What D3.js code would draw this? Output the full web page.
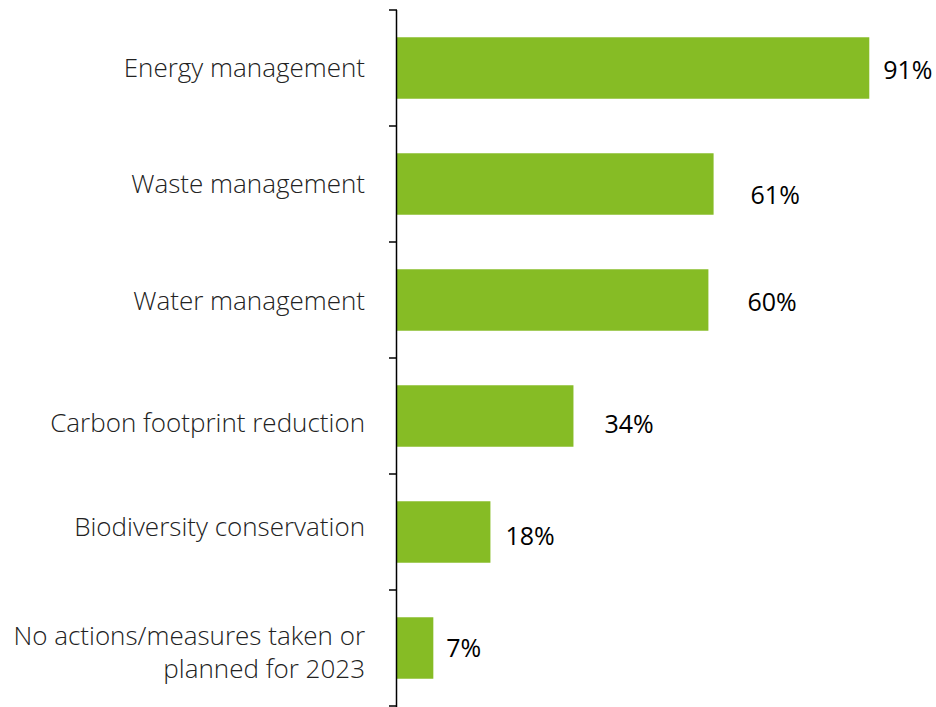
<!DOCTYPE html>
<html>
<head>
<meta charset="utf-8">
<script src="https://cdn.jsdelivr.net/npm/d3@7"></script>
<style>
  body { margin: 0; background: #fff; }
  svg { display: block; }
</style>
</head>
<body>
<svg id="chart" width="936" height="707"></svg>
<script>
const categories = [
    "Energy management",
    "Waste management",
    "Water management",
    "Carbon footprint reduction",
    "Biodiversity conservation",
    "No actions/measures taken or|planned for 2023"
];
const values = [91, 61, 60, 34, 18, 7];

// hand-placed label nudges, like the original
const labelDx = [14, 37, 39, 31, 15, 13];
const labelDy = [2, 11, 2, 8, 4, 0];
const catDy = [0, 0, 1, 7, -5, 4];

const svg = d3.select('#chart');
const axisX = 397;

const x = d3.scaleLinear().domain([0, 100]).range([axisX, axisX + 519]);
const y = d3.scaleBand().domain(categories).range([10, 706]).paddingInner(0.47).paddingOuter(0.235);
const band = d3.scaleBand().domain(categories).range([10, 706]);

svg.append('g')
    .selectAll('rect')
    .data(categories)
    .enter().append('rect')
    .attr('x', x(0))
    .attr('y', d => y(d))
    .attr('width', (d, i) => x(values[i]) - x(0))
    .attr('height', y.bandwidth())
    .attr('fill', '#86bc25');

// axis line + ticks at band boundaries
svg.append('line')
    .attr('x1', axisX - 0.5).attr('x2', axisX - 0.5)
    .attr('y1', 10).attr('y2', 707)
    .attr('stroke', '#000').attr('stroke-width', 1.5);

const tickYs = categories.map(c => band(c)).concat([706]);
svg.append('g')
    .selectAll('line')
    .data(tickYs)
    .enter().append('line')
    .attr('x1', axisX - 8).attr('x2', axisX)
    .attr('y1', d => d).attr('y2', d => d)
    .attr('stroke', '#000').attr('stroke-width', 1.5);

// category labels, one text per line so wrapped ones keep apart
categories.forEach((d, i) => {
    const lines = d.split('|');
    const cy = band(d) + band.bandwidth() / 2 + catDy[i];
    lines.forEach((ln, k) => {
        svg.append('text')
            .attr('x', 365)
            .attr('y', cy + (k - (lines.length - 1) / 2) * 33)
            .attr('dy', '0.35em')
            .attr('text-anchor', 'end')
            .attr('font-family', 'Open Sans')
            .attr('font-weight', 300)
            .attr('font-size', 26)
            .attr('fill', '#222')
            .text(ln);
    });
});

svg.append('g')
    .selectAll('text')
    .data(categories)
    .enter().append('text')
    .attr('x', (d, i) => x(values[i]) + labelDx[i])
    .attr('y', (d, i) => y(d) + y.bandwidth() / 2 + labelDy[i])
    .attr('dy', '0.35em')
    .attr('font-family', 'Open Sans')
    .attr('font-size', 25)
    .attr('fill', '#000')
    .text((d, i) => values[i] + '%');
</script>
</body>
</html>
